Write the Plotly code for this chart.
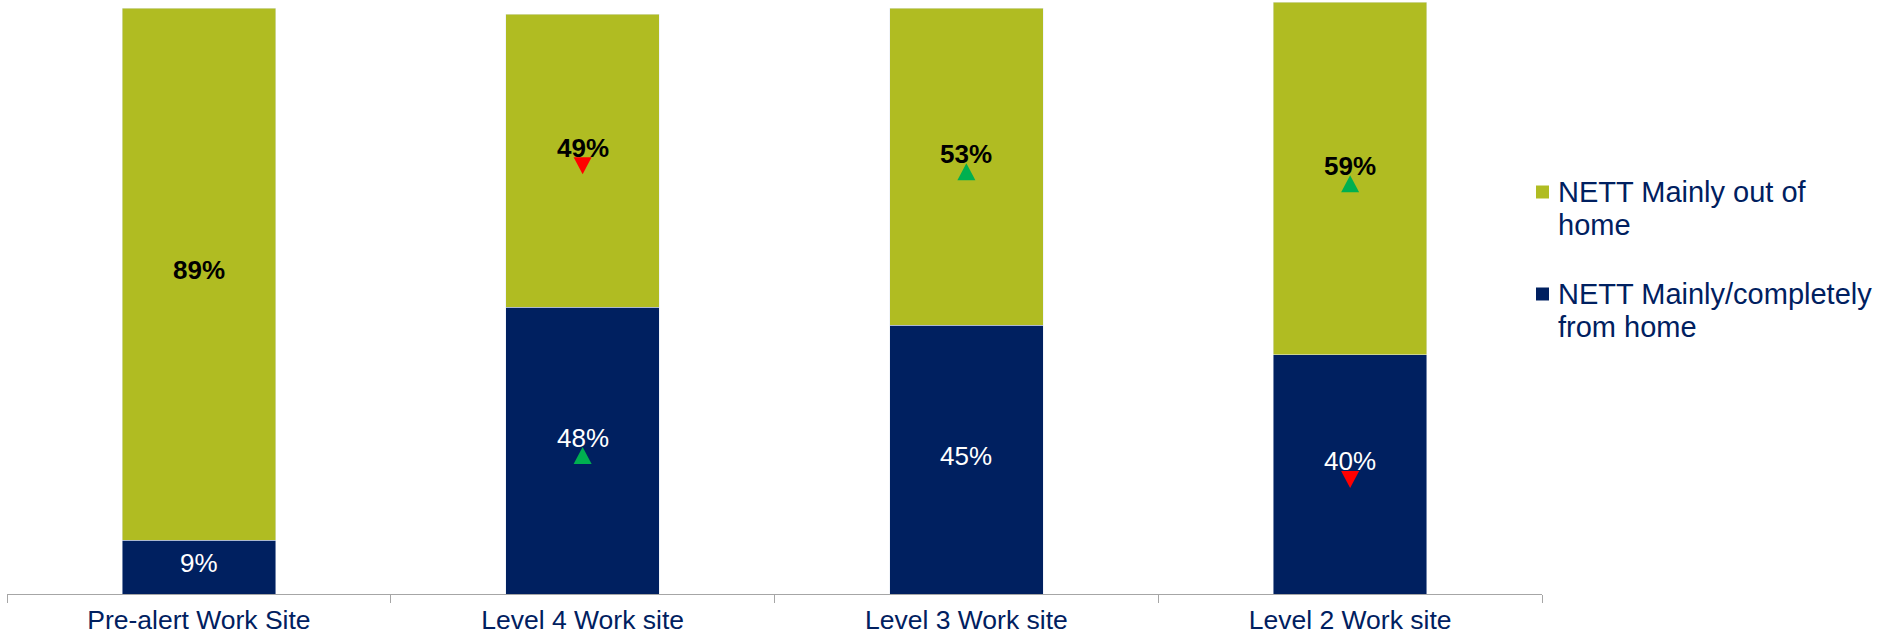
import plotly.graph_objects as go

# Work location by alert level (percent of respondents)
categories = ["Pre-alert Work Site", "Level 4 Work site", "Level 3 Work site", "Level 2 Work site"]
from_home = [9, 48, 45, 40]
out_of_home = [89, 49, 53, 59]
series_names = ["NETT Mainly out of<br>home", "NETT Mainly/completely<br>from home"]

# Significance markers against the previous wave: "up", "down" or None
from_home_change = [None, "up", None, "down"]
out_of_home_change = [None, "down", "up", "up"]

NAVY = "#002060"
GREEN = "#B0BC22"
UP_COLOUR = "#00B050"
DOWN_COLOUR = "#FF0000"
FONT = "Arial, Liberation Sans, sans-serif"

W, H = 1879, 637
M_L, M_R, M_T, M_B = 7, 337, 0, 43
PLOT_W = W - M_L - M_R
PLOT_H = H - M_T - M_B


def px_x(px):
    return (px - M_L) / PLOT_W


def px_y(py):
    return 1 - (py - M_T) / PLOT_H


fig = go.Figure()
fig.add_trace(go.Bar(x=categories, y=from_home, marker_color=NAVY, name="from home",
                     showlegend=False, hoverinfo="x+y"))
fig.add_trace(go.Bar(x=categories, y=out_of_home, marker_color=GREEN, name="out of home",
                     showlegend=False, hoverinfo="x+y"))

annotations = []
shapes = []


def triangle(direction):
    # pixel outline relative to the anchor point, ~18px wide and 17px tall
    if direction == "up":
        return "M -9,-13.5 L 9,-13.5 L 0,3.5 Z", UP_COLOUR
    return "M -9,3.5 L 9,3.5 L 0,-13.5 Z", DOWN_COLOUR


for i, cat in enumerate(categories):
    segments = [
        (from_home[i] / 2, from_home[i], from_home_change[i], "white", False),
        (from_home[i] + out_of_home[i] / 2, out_of_home[i], out_of_home_change[i], "black", True),
    ]
    for mid, value, change, colour, bold in segments:
        label = f"{value}%"
        if bold:
            label = f"<b>{label}</b>"
        annotations.append(dict(
            x=cat, y=mid, xref="x", yref="y", text=label, showarrow=False,
            font=dict(family=FONT, size=26, color=colour),
            yshift=13 if change else 4,
        ))
        if change:
            path, fill = triangle(change)
            shapes.append(dict(
                type="path", xref="x", yref="y",
                xsizemode="pixel", ysizemode="pixel",
                xanchor=i, yanchor=mid, path=path,
                fillcolor=fill, line=dict(width=0),
            ))

# Legend drawn as colour swatches with wrapped labels
legend_items = [(series_names[0], GREEN, 192), (series_names[1], NAVY, 294)]
for name, colour, top_line in legend_items:
    shapes.append(dict(
        type="rect", xref="paper", yref="paper",
        x0=px_x(1536), x1=px_x(1549), y0=px_y(top_line - 6.5), y1=px_y(top_line + 6.5),
        fillcolor=colour, line=dict(width=0),
    ))
    for k, line in enumerate(name.split("<br>")):
        annotations.append(dict(
            x=px_x(1556), y=px_y(top_line + 33 * k), xref="paper", yref="paper",
            xanchor="left", yanchor="middle", text=line, showarrow=False,
            font=dict(family=FONT, size=29, color=NAVY),
        ))

fig.update_layout(
    barmode="stack",
    bargap=0.6,
    width=W, height=H,
    margin=dict(l=M_L, r=M_R, t=M_T, b=M_B, pad=0),
    paper_bgcolor="white",
    plot_bgcolor="white",
    showlegend=False,
    annotations=annotations,
    shapes=shapes,
    xaxis=dict(
        type="category",
        automargin=False,
        showline=True, linecolor="#A6A6A6", linewidth=1,
        ticks="outside", tickson="boundaries", ticklen=8, tickcolor="#A6A6A6",
        tickfont=dict(family=FONT, size=26.5, color=NAVY),
        ticklabelstandoff=2,
        showgrid=False, zeroline=False,
    ),
    yaxis=dict(visible=False, range=[0, 99.4], showgrid=False, zeroline=False),
)

fig.write_html("out.html")
